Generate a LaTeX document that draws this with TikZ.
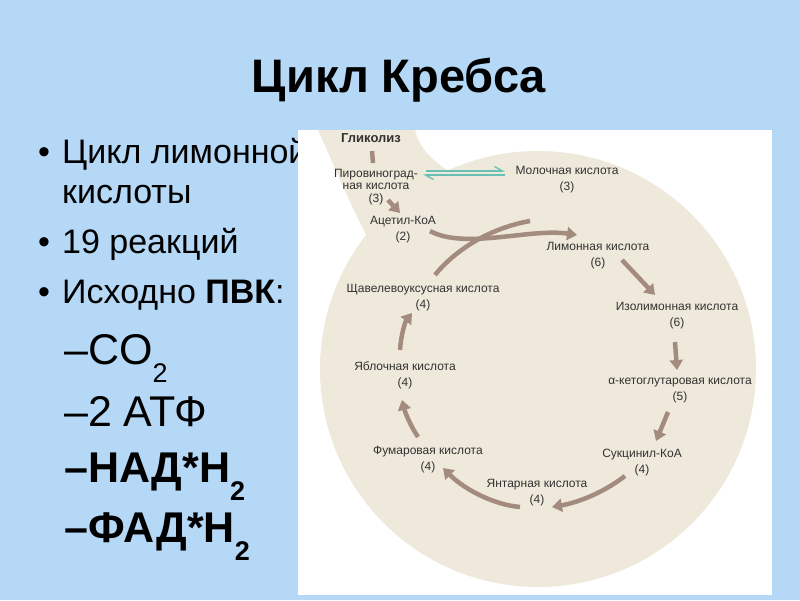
\documentclass[tikz,border=0pt]{standalone}
\usepackage{fontspec}
\setmainfont{Liberation Sans}
\usetikzlibrary{arrows.meta}
\definecolor{slideblue}{RGB}{180,216,246}
\definecolor{paper}{RGB}{239,233,219}
\definecolor{flow}{RGB}{163,139,126}
\definecolor{eqline}{RGB}{104,192,180}
\definecolor{ink}{RGB}{50,50,50}
\newcommand\lowsub[1]{\raisebox{-0.42em}{\fontsize{27}{27}\selectfont #1}}

\begin{document}
\begin{tikzpicture}[x=1pt,y=-1pt,
  bul/.style={anchor=base west,inner sep=0pt,font=\fontsize{34}{38}\selectfont},
  sub/.style={bul,font=\fontsize{43}{46}\selectfont},
  subb/.style={bul,font=\bfseries\fontsize{43}{46}\selectfont},
  chem/.style={align=center,inner sep=0pt,text=ink,font=\fontsize{12}{16}\selectfont},
  flowarr/.style={draw=flow,line width=4.5pt,-{Triangle[length=10pt,width=13pt]}},
  flowbar/.style={draw=flow,line width=4.5pt},
  eqarr/.style={draw=eqline,line width=1.3pt,-{Straight Barb[left,length=8pt,width=9pt]}}]
\def\rpan{218};

% slide
\fill[slideblue] (0,0) rectangle (800,600);
\node[font=\bfseries\fontsize{47}{50}\selectfont,anchor=base,inner sep=0pt] (title) at (399,92) {Цикл Кребса};

\node[bul] (d1) at (38,163) {•};
\node[bul] (l1) at (62,163) {Цикл лимонной};
\node[bul] (l1b) at (62,203) {кислоты};
\node[bul] (d2) at (38,253) {•};
\node[bul] (l2) at (62,253) {19 реакций};
\node[bul] (d3) at (38,303) {•};
\node[bul] (l3) at (62,303) {Исходно \textbf{ПВК}:};

\node[sub] (s1) at (64,364) {–CO\lowsub{2}};
\node[sub] (s2) at (64,426) {–2 АТФ};
\node[subb] (s3) at (64,482) {–НАД*Н\lowsub{\bfseries 2}};
\node[subb] (s4) at (64,542) {–ФАД*Н\lowsub{\bfseries 2}};

% picture
\fill[white] (298,130) rectangle (772,595);
\fill[paper] (538,369) circle (\rpan);
\fill[paper] (318,130) -- (415,130) .. controls (420,152) and (438,165) .. (462,180)
  -- (372,246) .. controls (350,205) and (334,165) .. (318,130);

\node[chem,font=\bfseries\fontsize{13}{14}\selectfont] (glyc) at (371,138) {Гликолиз};
\node[chem,font=\fontsize{12}{12.5}\selectfont] (pyr) at (376,187) {Пировиноград-\\ная кислота\\(3)};
\node[chem] (lact) at (567,180) {Молочная кислота\\(3)};
\node[chem] (acet) at (403,230) {Ацетил-КоА\\(2)};
\node[chem] (citr) at (598,256) {Лимонная кислота\\(6)};
\node[chem] (iso) at (677,316) {Изолимонная кислота\\(6)};
\node[chem] (akg) at (680,391) {α-кетоглутаровая кислота\\(5)};
\node[chem] (succoa) at (642,463) {Сукцинил-КоА\\(4)};
\node[chem] (succ) at (537,493) {Янтарная кислота\\(4)};
\node[chem] (fum) at (428,460) {Фумаровая кислота\\(4)};
\node[chem] (mal) at (405,375) {Яблочная кислота\\(4)};
\node[chem] (oaa) at (423,298) {Щавелевоуксусная кислота\\(4)};

\draw[flowbar] ([shift={(1,13)}]glyc.center) -- ([shift={(-3,-24)}]pyr.center);
\draw[flowarr] ([shift={(12,13)}]pyr.center) -- ([shift={(-3,-17)}]acet.center);
\draw[eqarr] ([shift={(50,-16)}]pyr.center) -- ([shift={(-62,-9)}]lact.center);
\draw[eqarr] ([shift={(-62,-5)}]lact.center) -- ([shift={(47,-12)}]pyr.center);

\draw[flowarr] ([shift={(27,1)}]acet.center) .. controls (465,250) and (530,228) .. ([shift={(-21,-21)}]citr.center);
\draw[flowbar] ([shift={(12,-23)}]oaa.center) .. controls (455,250) and (490,228) .. ([shift={(-68,-35)}]citr.center);
\draw[flowarr] ([shift={(24,4)}]citr.center) -- ([shift={(-22,-21)}]iso.center);
\draw[flowarr] ([shift={(-2,26)}]iso.center) -- ([shift={(-3,-21)}]akg.center);
\draw[flowarr] ([shift={(-12,21)}]akg.center) -- ([shift={(14,-22)}]succoa.center);
\draw[flowarr] ([shift={(-17,13)}]succoa.center) .. controls (600,495) and (575,503) .. ([shift={(15,14)}]succ.center);
\draw[flowarr] ([shift={(-17,14)}]succ.center) .. controls (495,505) and (465,490) .. ([shift={(15,8)}]fum.center);
\draw[flowarr] ([shift={(-10,-23)}]fum.center) .. controls (410,425) and (405,412) .. ([shift={(-3,25)}]mal.center);
\draw[flowarr] ([shift={(-5,-25)}]mal.center) .. controls (401,335) and (405,322) .. ([shift={(-11,15)}]oaa.center);
\end{tikzpicture}
\end{document}
